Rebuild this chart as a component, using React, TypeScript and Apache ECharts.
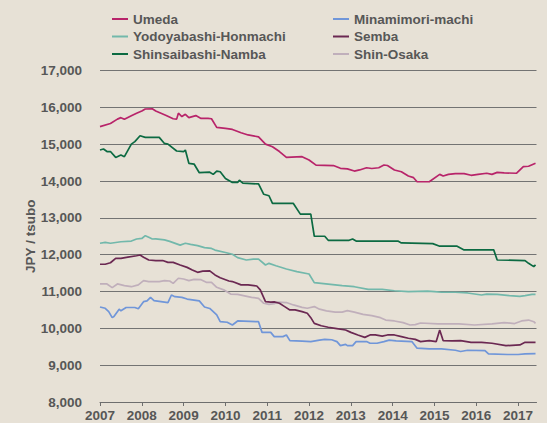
import React, { useEffect, useRef } from "react";
import * as echarts from "echarts";

// x: months since Jan 2007, y: JPY / tsubo
const umeda: [number, number][] = [
  [0, 15475], [3, 15560], [5, 15680], [6, 15720], [7, 15675], [9, 15770], [10.5, 15840], [12, 15900], [13, 15955], [15, 15960],
  [16, 15900], [17.5, 15840], [19, 15780], [21, 15690], [22, 15680], [22.5, 15840], [23.5, 15750], [24.5, 15810], [25.5, 15720],
  [27.5, 15775], [29, 15700], [31, 15700], [32, 15690], [33.5, 15457], [36, 15430], [38, 15400], [40.5, 15310], [42.5, 15250],
  [45.5, 15200], [47.5, 15000], [49.5, 14930], [51.5, 14800], [53.5, 14640], [58, 14660], [60, 14570], [62, 14430], [67, 14420],
  [69, 14345], [71, 14330], [73, 14270], [74.5, 14300], [76.5, 14360], [78, 14340], [80, 14360], [81.5, 14435], [82.5, 14420],
  [84.5, 14300], [86.5, 14250], [88.5, 14135], [90, 14090], [91, 13980], [94.5, 13980], [97.5, 14180], [98.5, 14135], [100, 14180],
  [102, 14200], [104.5, 14200], [106.5, 14155], [108.5, 14180], [111, 14210], [112.5, 14180], [114, 14235], [116, 14220],
  [119.5, 14210], [121.5, 14390], [123, 14400], [125, 14480],
];

const minamimori: [number, number][] = [
  [0, 10580], [1.5, 10545], [2.5, 10455], [3.5, 10290], [4, 10320], [5.5, 10520], [6, 10475], [7.5, 10565], [10, 10565], [11, 10530],
  [12.5, 10725], [13.5, 10745], [14.5, 10840], [15.5, 10750], [17.5, 10725], [19.5, 10700], [20.5, 10905], [21.5, 10860],
  [23.5, 10840], [25, 10795], [28.5, 10745], [30, 10580], [31.5, 10540], [33.5, 10365], [34.5, 10180], [36.5, 10165], [38, 10090],
  [39.5, 10200], [45.5, 10180], [46.5, 9890], [49, 9890], [50, 9775], [52.5, 9775], [53.5, 9820], [54.5, 9665], [58, 9655],
  [60.5, 9640], [63, 9680], [64.5, 9700], [66.5, 9690], [68, 9640], [69, 9530], [70.5, 9565], [71, 9530], [72.5, 9530],
  [73.5, 9640], [76.5, 9640], [77.5, 9595], [79.5, 9595], [81.5, 9640], [83, 9680], [85, 9660], [89.5, 9640], [91, 9460],
  [94.5, 9440], [98, 9440], [102, 9405], [103.5, 9370], [105.5, 9405], [110.5, 9395], [111.5, 9305], [117, 9290], [120, 9290],
  [122, 9305], [125, 9315],
];

const yodoyabashi: [number, number][] = [
  [0, 12310], [1.5, 12335], [3, 12310], [6, 12350], [9, 12370], [10.5, 12425], [12, 12440], [13, 12515], [14, 12470], [15, 12425],
  [16, 12430], [18.5, 12400], [20, 12360], [23, 12260], [24.5, 12310], [26, 12280], [28, 12245], [30, 12190], [32, 12170],
  [33, 12125], [36, 12060], [38, 12010], [39.5, 11920], [42, 11855], [44, 11880], [45.5, 11880], [47.5, 11720], [48.5, 11765],
  [50.5, 11700], [53.5, 11610], [56.5, 11540], [60, 11475], [61.5, 11240], [65.5, 11200], [69.5, 11160], [73, 11130], [77, 11060],
  [81, 11060], [84.5, 11020], [88.5, 10995], [94, 11010], [96, 10995], [98, 10980], [102, 10980], [105.5, 10960], [109.5, 10905],
  [111, 10930], [114, 10920], [117.5, 10890], [120.5, 10870], [122, 10890], [124, 10920], [125, 10920],
];

const semba: [number, number][] = [
  [0, 11740], [1.5, 11740], [3, 11780], [4.5, 11900], [6, 11900], [8, 11935], [10.5, 11970], [11.5, 11990], [12.5, 11930],
  [14, 11855], [16, 11840], [18, 11840], [19.5, 11790], [21, 11790], [23, 11720], [25, 11655], [26.5, 11585], [28, 11520],
  [29.5, 11555], [31.5, 11560], [33, 11450], [34.5, 11375], [37, 11285], [38, 11270], [40.5, 11180], [42.5, 11180], [45, 11150],
  [46, 11045], [47.5, 10725], [49, 10710], [50, 10720], [51.5, 10680], [53, 10590], [54.5, 10500], [56, 10500], [58, 10455],
  [59.5, 10410], [60.5, 10290], [61.5, 10135], [63.5, 10070], [65.5, 10030], [67.5, 10000], [70.5, 9955], [72, 9890], [74, 9820],
  [76, 9755], [77.5, 9820], [79, 9820], [81, 9790], [82.5, 9820], [84.5, 9820], [86.5, 9775], [88.5, 9730], [90.5, 9700],
  [92, 9640], [94.5, 9665], [96.5, 9640], [97.5, 9955], [98.5, 9665], [101, 9660], [103.5, 9665], [106.5, 9620], [109.5, 9620],
  [112.5, 9595], [116.5, 9530], [120.5, 9550], [122, 9620], [125, 9620],
];

const shinsaibashi: [number, number][] = [
  [0, 14840], [1, 14870], [2, 14800], [3, 14800], [4.5, 14640], [6, 14705], [7, 14660], [9, 15000], [10, 15070], [11.5, 15230],
  [13, 15185], [17, 15185], [18.5, 15020], [19.5, 15000], [22, 14815], [24, 14800], [24.5, 14840], [25.5, 14480], [27, 14460],
  [28.5, 14225], [31.5, 14240], [32.5, 14180], [33.5, 14270], [34.5, 14250], [36, 14070], [38, 13960], [39.5, 13960], [40, 14020],
  [41, 13940], [45.5, 13920], [47, 13640], [48.5, 13600], [49.5, 13390], [55.5, 13390], [57.5, 13100], [60.5, 13100], [61.5, 12500],
  [64.5, 12500], [65.5, 12390], [71.5, 12390], [72.5, 12425], [73.5, 12370], [85.5, 12370], [86.5, 12320], [95.5, 12300],
  [97.5, 12230], [102.5, 12230], [104.5, 12130], [113, 12130], [114, 11855], [122, 11840], [123, 11765], [124.5, 11675], [125, 11720],
];

const shinOsaka: [number, number][] = [
  [0, 11205], [2, 11205], [3.5, 11105], [5, 11205], [7, 11160], [9, 11130], [11, 11180], [12.5, 11295], [14, 11270], [17, 11270],
  [18.5, 11295], [20, 11285], [21, 11220], [22.5, 11360], [24, 11340], [25.5, 11295], [27, 11330], [29, 11320], [30.5, 11250],
  [32, 11250], [33.5, 11115], [35.5, 11045], [37.5, 10930], [39.5, 10920], [41.5, 10880], [43.5, 10840], [45.5, 10815], [47, 10680],
  [48.5, 10650], [50, 10670], [51, 10710], [53.5, 10700], [55.5, 10635], [58, 10570], [59.5, 10545], [61.5, 10590], [63, 10520],
  [65, 10475], [67.5, 10440], [69.5, 10440], [71, 10480], [73, 10440], [75.5, 10380], [78, 10345], [80.5, 10290], [82, 10225],
  [84.5, 10200], [87, 10155], [89, 10090], [90.5, 10100], [92, 10145], [97, 10120], [103, 10120], [107.5, 10090], [112.5, 10120],
  [116, 10155], [119, 10130], [121, 10200], [123, 10225], [124.5, 10180], [125, 10135],
];

const yearTicks = [2007, 2008, 2009, 2010, 2011, 2012, 2013, 2014, 2015, 2016, 2017];
const legendCol1 = ["Umeda", "Yodoyabashi-Honmachi", "Shinsaibashi-Namba"];
const legendCol2 = ["Minamimori-machi", "Semba", "Shin-Osaka"];

const seriesDefs = [
  { name: "Shin-Osaka", data: shinOsaka, color: "#c0afbb" },
  { name: "Minamimori-machi", data: minamimori, color: "#7096d9" },
  { name: "Yodoyabashi-Honmachi", data: yodoyabashi, color: "#72b8ab" },
  { name: "Semba", data: semba, color: "#6b2852" },
  { name: "Shinsaibashi-Namba", data: shinsaibashi, color: "#0c6a42" },
  { name: "Umeda", data: umeda, color: "#b8246a" },
];

const FONT = "'Liberation Sans', Arial, sans-serif";
const TXT = "#575757";

export default function App() {
  const ref = useRef<HTMLDivElement>(null);
  useEffect(() => {
    document.body.style.margin = "0";
    if (!ref.current) return;
    const chart = echarts.init(ref.current, null, { renderer: "svg" });
    const legendBase = {
      orient: "vertical" as const,
      top: 6,
      icon: "rect",
      itemWidth: 16,
      itemHeight: 2,
      itemGap: 1.5,
      textStyle: { fontFamily: FONT, fontSize: 13.5, fontWeight: "bold" as const, color: TXT, lineHeight: 16 },
    };
    chart.setOption({
      animation: false,
      backgroundColor: "#e7e1d6",
      textStyle: { fontFamily: FONT },
      legend: [
        { ...legendBase, left: 107, data: legendCol1 },
        { ...legendBase, left: 328, data: legendCol2 },
      ],
      grid: { left: 100, right: 10.5, top: 70.5, bottom: 21, containLabel: false },
      xAxis: {
        type: "value",
        min: 2007,
        max: 2017.44,
        interval: 1,
        splitLine: { show: false },
        axisLine: { show: true, lineStyle: { color: "#6e6e6e", width: 1 } },
        axisTick: { show: true, length: 4, lineStyle: { color: "#6e6e6e" }, customValues: yearTicks },
        axisLabel: {
          customValues: yearTicks,
          fontFamily: FONT,
          fontSize: 13.5,
          fontWeight: "bold",
          color: TXT,
          margin: 6,
          formatter: (v: number) => String(Math.round(v)),
        },
      },
      yAxis: {
        type: "value",
        min: 8000,
        max: 17000,
        interval: 1000,
        name: "JPY / tsubo",
        nameLocation: "middle",
        nameGap: 63,
        nameRotate: 90,
        nameMoveOverlap: false,
        nameTextStyle: { fontFamily: FONT, fontSize: 13.5, fontWeight: "bold", color: TXT },
        axisLine: { show: false },
        axisTick: { show: false },
        splitLine: { show: true, lineStyle: { color: "#737373", width: 1 } },
        axisLabel: {
          fontFamily: FONT,
          fontSize: 13.5,
          fontWeight: "bold",
          color: TXT,
          margin: 18,
          formatter: (v: number) => v.toLocaleString("en-US"),
        },
      },
      series: seriesDefs.map((s) => ({
        name: s.name,
        type: "line",
        showSymbol: false,
        symbol: "none",
        color: s.color,
        lineStyle: { color: s.color, width: 1.7 },
        data: s.data.map(([m, v]) => [2007 + m / 12, v]),
      })),
    });
    return () => chart.dispose();
  }, []);
  return <div ref={ref} style={{ width: 547, height: 423 }} />;
}
